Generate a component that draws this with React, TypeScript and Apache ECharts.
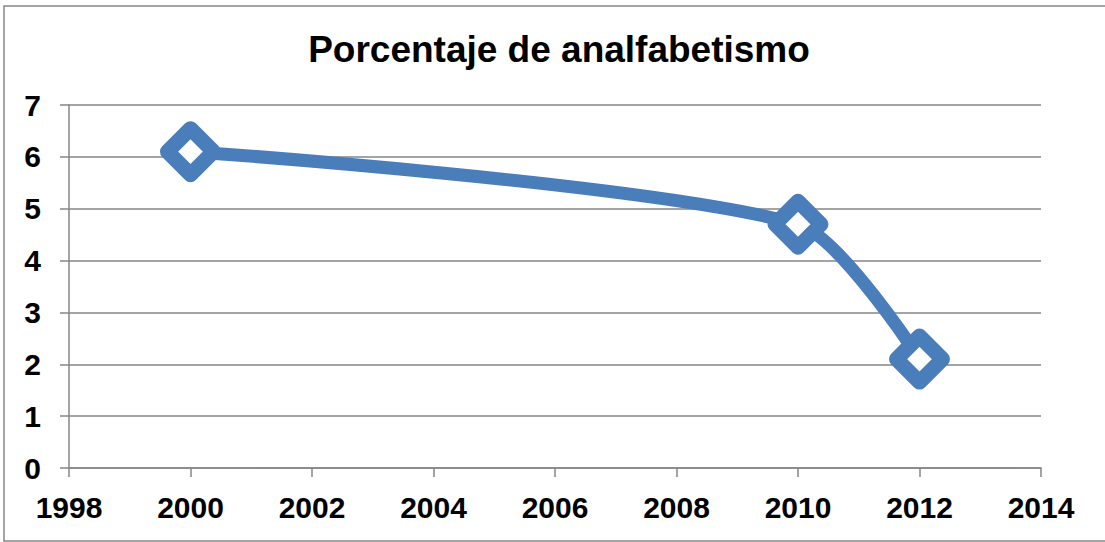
import React, { useEffect, useRef } from "react";
import * as echarts from "echarts";

const title = "Porcentaje de analfabetismo";
const years = [2000, 2010, 2012];
const values = [6.1, 4.7, 2.1];
const xMin = 1998;
const xMax = 2014;
const xStep = 2;
const yMin = 0;
const yMax = 7;
const yStep = 1;

const LINE = "#4A7EBB";
const GRAY = "#868686";
const FONT = "Liberation Sans, Arial, sans-serif";

export default function App() {
  const ref = useRef<HTMLDivElement>(null);
  useEffect(() => {
    document.body.style.margin = "0";
    const chart = echarts.init(ref.current!, null, { renderer: "svg" });
    chart.setOption({
      animation: false,
      backgroundColor: "#fff",
      title: {
        text: title,
        left: 554,
        textAlign: "center",
        top: 26,
        textStyle: { fontFamily: FONT, fontWeight: "bold", fontSize: 37, color: "#000" },
      },
      graphic: [
        {
          type: "rect",
          shape: { x: 4, y: 6, width: 1120, height: 535 },
          style: { fill: "none", stroke: GRAY, lineWidth: 1.5 },
          silent: true,
          z: -1,
        },
      ],
      grid: { left: 69, right: 64, top: 105, bottom: 74 },
      xAxis: {
        type: "value",
        min: xMin,
        max: xMax,
        interval: xStep,
        axisLine: { show: true, lineStyle: { color: GRAY, width: 1.5 } },
        axisTick: { show: true, length: 9, lineStyle: { color: GRAY, width: 1.5 } },
        splitLine: { show: false },
        axisLabel: {
          formatter: (v: number) => String(v),
          fontFamily: FONT,
          fontWeight: "bold",
          fontSize: 30,
          color: "#000",
          margin: 24,
        },
      },
      yAxis: {
        type: "value",
        min: yMin,
        max: yMax,
        interval: yStep,
        axisLine: { show: true, lineStyle: { color: GRAY, width: 1.5 } },
        axisTick: { show: true, length: 9, lineStyle: { color: GRAY, width: 1.5 } },
        splitLine: { show: true, lineStyle: { color: GRAY, width: 1.5 } },
        axisLabel: {
          fontFamily: FONT,
          fontWeight: "bold",
          fontSize: 30,
          color: "#000",
          margin: 28,
        },
      },
      series: [
        {
          type: "line",
          data: years.map((y, i) => [y, values[i]]),
          smooth: 0.25,
          symbol: "diamond",
          symbolSize: 46,
          lineStyle: { color: LINE, width: 13 },
          itemStyle: { color: "#fff", borderColor: LINE, borderWidth: 15, borderJoin: "round" },
        },
      ],
    });
    return () => chart.dispose();
  }, []);
  return <div ref={ref} style={{ width: 1105, height: 542 }} />;
}
